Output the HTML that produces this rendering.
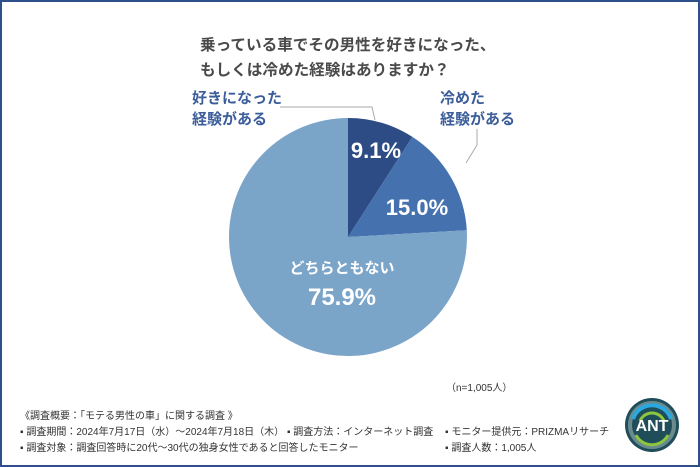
<!DOCTYPE html>
<html><head><meta charset="utf-8"><style>
body{margin:0;}
.f{position:relative;width:700px;height:467px;box-sizing:border-box;border:2px solid #2f4f8a;background:#fff;font-family:"Liberation Sans","Noto Sans CJK JP",sans-serif;overflow:hidden}
.t{position:absolute;color:#444;}
</style></head><body><div class="f">
<div class="t" style="left:198px;top:31px;font-size:15.6px;font-weight:bold;line-height:25px;color:#4a4a4a">乗っている車でその男性を好きになった、<br>もしくは冷めた経験はありますか？</div>
<svg style="position:absolute;left:-2px;top:-2px" width="700" height="467">
<path d="M348,237 L348,118 A119,119 0 0 1 412.4,136.9 Z" fill="#2d4b84"/>
<path d="M348,237 L412.4,136.9 A119,119 0 0 1 466.8,230.3 Z" fill="#4571ae"/>
<path d="M348,237 L466.8,230.3 A119,119 0 1 1 348,118 Z" fill="#7ba4c9"/>
<polyline points="280,107 372,107 375,120" fill="none" stroke="#aaa" stroke-width="1"/>
<polyline points="477,129 477,145 466,163" fill="none" stroke="#aaa" stroke-width="1"/>
<g fill="#fff" font-family="Liberation Sans, Noto Sans CJK JP, sans-serif" font-weight="bold" text-anchor="middle">
<text x="376" y="158" font-size="22">9.1%</text>
<text x="417" y="215" font-size="22">15.0%</text>
<text x="342" y="273" font-size="15">どちらともない</text>
<text x="342" y="305" font-size="24">75.9%</text>
</g>
<g fill="#3b5d9a" font-family="Liberation Sans, Noto Sans CJK JP, sans-serif" font-weight="bold" font-size="15">
<text x="192" y="103">好きになった</text>
<text x="192" y="124">経験がある</text>
<text x="440" y="103">冷めた</text>
<text x="440" y="124">経験がある</text>
</g>
<g fill="#333" font-family="Liberation Sans, Noto Sans CJK JP, sans-serif" font-size="10">
<text x="446" y="391">（n=1,005人）</text>
<text x="20" y="419">《調査概要：「モテる男性の車」に関する調査 》</text>
<text x="20" y="435">▪ 調査期間：2024年7月17日（水）～2024年7月18日（木） ▪ 調査方法：インターネット調査</text>
<text x="445" y="435">▪ モニター提供元：PRIZMAリサーチ</text>
<text x="20" y="451">▪ 調査対象：調査回答時に20代～30代の独身女性であると回答したモニター</text>
<text x="445" y="451">▪ 調査人数：1,005人</text>
</g>
<g transform="translate(652,425)">
<circle r="27" fill="#1f4e5a"/>
<circle r="22" fill="none" stroke="#6b8a8e" stroke-width="4"/>
<path d="M-19,-6 A20,20 0 0 1 19,-6" fill="none" stroke="#2aa9e0" stroke-width="4"/>
<path d="M-12,-4 A13,13 0 0 1 12,-4" fill="none" stroke="#8cc63f" stroke-width="3"/>
<path d="M-16,10 A18,18 0 0 0 16,10" fill="none" stroke="#8cc63f" stroke-width="3"/>
<text x="0" y="6" fill="#fff" font-family="Liberation Sans, sans-serif" font-weight="bold" font-size="16" text-anchor="middle">ANT</text>
</g>
</svg>
</div></body></html>
